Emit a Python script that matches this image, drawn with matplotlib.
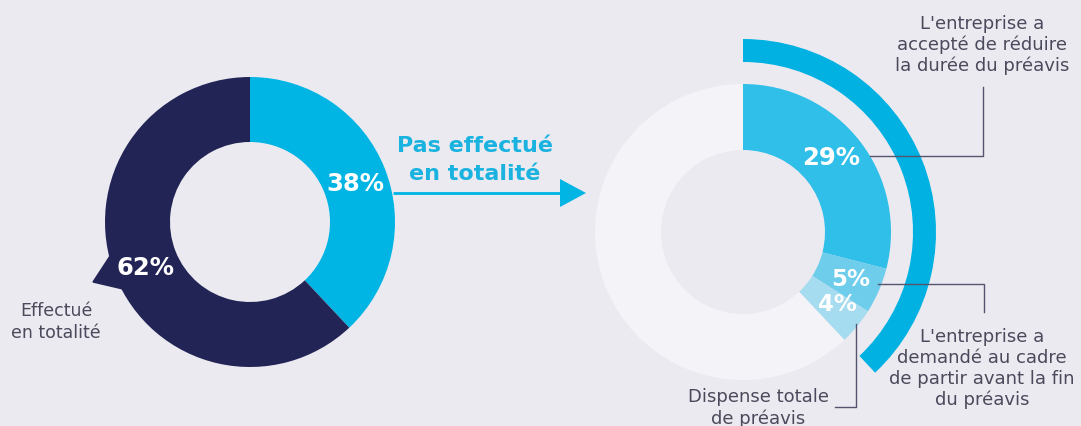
import numpy as np
import matplotlib
matplotlib.use("Agg")
import matplotlib.pyplot as plt

W, H = 1081, 427

# data
left_labels = ["Pas effectué en totalité", "Effectué en totalité"]
left_values = [38, 62]

right_labels = ["L'entreprise a accepté de réduire la durée du préavis",
                "L'entreprise a demandé au cadre de partir avant la fin du préavis",
                "Dispense totale de préavis",
                "Effectué en totalité"]
right_values = [29, 5, 4, 62]

bg = "#ebeaf0"
navy = "#232456"
cyan = "#00b4e4"
txt = "#4a4a5c"
linec = "#55556f"

plt.rcParams['font.family'] = ['DejaVu Sans']

fig = plt.figure(figsize=(W / 100, H / 100), dpi=100, facecolor=bg)
ax = fig.add_axes([0, 0, 1, 1])
ax.set_facecolor(bg)


def py(y):
    return H - y


# left donut
lc = (250, py(223))
# little speech tail
ax.fill([110, 93, 123], [py(257), py(283), py(290)], color=navy, zorder=1)
ax.pie(left_values, colors=[cyan, navy], startangle=90, counterclock=False,
       center=lc, radius=145, wedgeprops=dict(width=65, linewidth=0),
       frame=True)
ax.text(355, py(184), f"{left_values[0]}%", color="white", fontsize=17.5,
        fontweight="bold", ha="center", va="center")
ax.text(145, py(268), f"{left_values[1]}%", color="white", fontsize=17.5,
        fontweight="bold", ha="center", va="center")
ax.text(56, py(322), "Effectué\nen totalité", color=txt, fontsize=12.5,
        ha="center", va="center", linespacing=1.25)

# arrow
ax.text(475, py(160), "Pas effectué\nen totalité", color="#1ab3e0", fontsize=16,
        fontweight="bold", ha="center", va="center", linespacing=1.45)
ax.plot([393, 562], [py(194), py(194)], color=cyan, lw=2, solid_capstyle="butt")
ax.fill([560, 586, 560], [py(180), py(194), py(208)], color=cyan, lw=0)

# right donut
rc = (743, py(233))
right_colors = ["#30bfe8", "#6fcdec", "#a6dcef", "#f4f3f8"]
ax.pie(right_values, colors=right_colors, startangle=90, counterclock=False,
       center=rc, radius=148, wedgeprops=dict(width=66, linewidth=0),
       frame=True)
# outer band for the 38%
ax.pie([left_values[0], left_values[1]], colors=["#00b1e2", "none"],
       startangle=90, counterclock=False, center=rc, radius=193,
       wedgeprops=dict(width=23, linewidth=0), frame=True)

ax.set_xlim(0, W)
ax.set_ylim(0, H)
ax.set_aspect("equal")
ax.axis("off")

ax.text(831, py(158), f"{right_values[0]}%", color="white", fontsize=17.5,
        fontweight="bold", ha="center", va="center")
ax.text(851, py(279), f"{right_values[1]}%", color="white", fontsize=16.5,
        fontweight="bold", ha="center", va="center")
ax.text(837, py(305), f"{right_values[2]}%", color="white", fontsize=16.5,
        fontweight="bold", ha="center", va="center")

# callouts
ax.plot([870, 983, 983], [py(157), py(157), py(88)], color=linec, lw=1)
ax.text(982, py(45), "L'entreprise a\naccepté de réduire\nla durée du préavis",
        color=txt, fontsize=13, ha="center", va="center", linespacing=1.2)

ax.plot([878, 984, 984], [py(285), py(285), py(313)], color=linec, lw=1)
ax.text(982, py(369), "L'entreprise a\ndemandé au cadre\nde partir avant la fin\ndu préavis",
        color=txt, fontsize=13, ha="center", va="center", linespacing=1.2)

ax.plot([856, 856, 835], [py(325), py(408), py(408)], color=linec, lw=1)
ax.text(758, py(408), "Dispense totale\nde préavis",
        color=txt, fontsize=13, ha="center", va="center", linespacing=1.2)

fig.savefig("out.png", dpi=100, facecolor=bg)
